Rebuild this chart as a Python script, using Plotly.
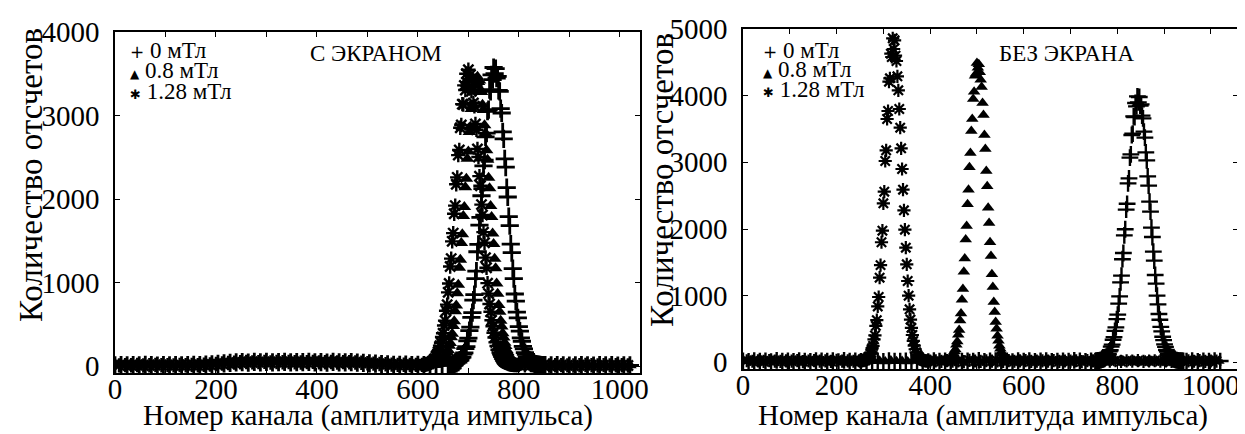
import plotly.graph_objects as go

FIG_W, FIG_H = 1245, 434

# ---------------- data ----------------
series_names = ["0 мТл", "0.8 мТл", "1.28 мТл"]
panel_titles = ["С ЭКРАНОМ", "БЕЗ ЭКРАНА"]
x_title = "Номер канала (амплитуда импульса)"
y_title = "Количество отсчетов"

BASE_STEP = 12   # channel spacing of sampled baseline counts
PEAK_STEP = 2    # channel spacing of sampled peak counts

# ---- left panel: "С ЭКРАНОМ" ----
L0_base_a_start = 0
L0_base_a = [13, 16, 11, 15, 12, 17, 14, 10, 15, 13,
             16, 12, 15, 18, 14, 20, 24, 29, 36, 41,
             46, 49, 45, 52, 48, 53, 47, 50, 54, 46,
             51, 49, 53, 47, 50, 45, 52, 48, 46, 50,
             44, 41, 36, 31, 26, 23, 19, 17, 20, 16,
             18, 15, 19, 17, 21]
L0_peak_start = 660
L0_peak = [13, 21, 16, 24, 19, 28, 26, 37, 35, 50,
           51, 69, 74, 101, 110, 147, 161, 212, 236, 304,
           337, 426, 469, 586, 643, 791, 858, 1050, 1140, 1371,
           1458, 1690, 1783, 2041, 2126, 2398, 2467, 2745, 2790, 3052,
           3071, 3310, 3290, 3488, 3430, 3575, 3502, 3561, 3447, 3470,
           3301, 3289, 3084, 3031, 2806, 2722, 2481, 2383, 2139, 2026,
           1790, 1683, 1462, 1360, 1170, 1050, 865, 781, 649, 580,
           474, 421, 341, 300, 239, 208, 163, 144, 112, 98,
           75, 67, 50, 48, 37, 34, 27, 26, 21, 22,
           17, 18, 15, 16, 14]
L0_base_b_start = 852
L0_base_b = [14, 11, 15, 12, 10, 13, 16, 11, 9, 14, 12, 15, 10, 13, 11]

L08_base_a_start = 4
L08_base_a = [15, 12, 14, 11, 16, 13, 15, 12, 17, 14,
              11, 15, 13, 17, 16, 21, 26, 32, 38, 43,
              47, 51, 48, 54, 46, 50, 53, 48, 51, 45,
              52, 47, 50, 54, 46, 49, 51, 45, 48, 47,
              43, 39, 34, 29, 25, 21, 18, 19, 16, 18,
              15, 17]
L08_peak_start = 628
L08_peak = [18, 15, 22, 20, 23, 31, 29, 42, 43, 56,
            59, 81, 89, 118, 132, 170, 193, 245, 278, 347,
            391, 482, 540, 658, 729, 874, 975, 1180, 1276, 1474,
            1580, 1798, 1906, 2143, 2245, 2484, 2570, 2803, 2866, 3080,
            3112, 3295, 3290, 3428, 3385, 3466, 3402, 3420, 3308, 3281,
            3130, 3066, 2885, 2790, 2585, 2472, 2256, 2131, 1918, 1788,
            1590, 1463, 1286, 1172, 990, 868, 735, 652, 545, 477,
            395, 344, 281, 242, 195, 167, 135, 115, 91, 77,
            61, 53, 44, 40, 31, 30, 24, 23, 19, 18,
            16, 17, 15]
L08_base_b_start = 816
L08_base_b = [16, 13, 11, 14, 12, 10, 13, 11, 12, 15, 9, 13, 14, 11, 12, 10, 14, 12]

L128_base_a_start = 8
L128_base_a = [11, 14, 12, 16, 10, 13, 15, 12, 14, 11,
               16, 13, 15, 12, 18, 22, 27, 33, 39, 44,
               48, 52, 47, 50, 53, 46, 51, 49, 52, 48,
               45, 50, 53, 47, 49, 52, 46, 50, 48, 45,
               42, 37, 32, 28, 24, 20, 17, 19, 15, 17]
L128_peak_start = 608
L128_peak = [17, 14, 21, 18, 25, 23, 32, 30, 43, 44,
             57, 61, 82, 90, 120, 133, 172, 195, 248, 282,
             352, 396, 488, 547, 665, 738, 885, 990, 1195, 1289,
             1495, 1594, 1826, 1923, 2178, 2261, 2527, 2589, 2854, 2887,
             3137, 3132, 3361, 3306, 3500, 3398, 3549, 3420, 3488, 3290,
             3341, 3150, 3112, 2900, 2830, 2601, 2505, 2275, 2160, 1935,
             1810, 1605, 1478, 1300, 1180, 995, 870, 745, 652, 552,
             480, 401, 345, 286, 243, 198, 165, 137, 114, 93,
             77, 63, 53, 46, 39, 32, 28, 25, 21, 19,
             18, 16, 17, 14, 15]
L128_base_b_start = 800
L128_base_b = [15, 12, 14, 11, 13, 10, 12, 14, 11, 10, 13, 15, 12, 9, 14, 11, 13, 12, 10]

# ---- right panel: "БЕЗ ЭКРАНА" ----
R0_base_a_start = 0
R0_base_a = [21, 14, 26, 18, 23, 12, 28, 17, 22, 15,
             25, 19, 13, 27, 20, 16, 24, 11, 29, 18,
             22, 14, 26, 17, 21, 13, 25, 19, 16, 23,
             20, 15, 27, 12, 24, 18, 21, 26, 14, 19,
             23, 16, 28, 13, 20, 25, 17, 22, 11, 27,
             18, 24, 15, 21, 26, 13, 19, 23, 16, 28,
             20, 14, 22]
R0_peak_start = 753
R0_peak = [19, 25, 21, 29, 27, 34, 33, 42, 43, 57,
           59, 78, 85, 114, 127, 165, 182, 236, 265, 338,
           378, 472, 524, 648, 715, 880, 990, 1200, 1300, 1547,
           1640, 1905, 1996, 2290, 2378, 2685, 2760, 3070, 3120, 3410,
           3430, 3690, 3680, 3890, 3840, 3990, 3900, 3980, 3850, 3870,
           3700, 3660, 3460, 3370, 3150, 3030, 2790, 2650, 2410, 2260,
           2020, 1880, 1660, 1526, 1310, 1180, 1000, 870, 726, 639,
           532, 465, 384, 333, 269, 232, 185, 162, 129, 111,
           87, 76, 60, 54, 44, 40, 34, 33, 28, 27,
           23, 24, 21, 22, 20]
R0_base_b_start = 948
R0_base_b = [18, 24, 13, 21, 16, 25, 19]

R08_base_a_start = 4
R08_base_a = [17, 23, 12, 27, 19, 15, 24, 20, 13, 26,
              18, 22, 14, 28, 16, 21, 25, 19, 12, 24,
              20, 15, 27, 18, 22, 13, 26, 17, 21, 14,
              25, 19, 16, 23, 20, 15]
R08_peak_start = 426
R08_peak = [17, 24, 20, 28, 25, 34, 32, 45, 46, 67,
            72, 103, 118, 165, 193, 263, 312, 414, 486, 626,
            732, 940, 1100, 1360, 1557, 1843, 2046, 2372, 2590, 2925,
            3140, 3470, 3650, 3950, 4060, 4300, 4330, 4490, 4420, 4470,
            4350, 4240, 4130, 3890, 3710, 3410, 3200, 2870, 2640, 2320,
            2090, 1800, 1595, 1320, 1130, 905, 756, 604, 503, 397,
            325, 250, 204, 155, 127, 95, 79, 60, 52, 40,
            36, 30, 29, 24, 24, 21, 22]
R08_base_b_start = 584
R08_base_b = [22, 15, 27, 18, 12, 24, 20, 16, 26, 13,
              21, 17, 25, 14, 23, 19, 11, 22, 18, 26,
              15, 21, 13, 27, 19, 24, 16, 20, 12, 25,
              18, 23, 14, 22, 17, 26, 20]

R128_base_a_start = 8
R128_base_a = [24, 16, 21, 13, 27, 19, 15, 22, 18, 25, 12, 20, 26, 17, 23, 14, 28, 19, 21, 16, 24]
R128_peak_start = 250
R128_peak = [18, 25, 21, 28, 24, 36, 32, 51, 52, 80,
             85, 128, 146, 212, 246, 344, 403, 548, 632, 838,
             980, 1270, 1458, 1801, 1975, 2385, 2560, 3020, 3180, 3650,
             3770, 4210, 4260, 4630, 4580, 4860, 4700, 4830, 4600, 4520,
             4290, 4080, 3800, 3520, 3210, 2900, 2590, 2280, 1990, 1720,
             1470, 1220, 1000, 795, 642, 518, 410, 322, 252, 196,
             151, 116, 90, 70, 56, 44, 37, 32, 28, 24,
             23, 21, 20]
R128_base_b_start = 400
R128_base_b = [19, 23, 14, 26, 17, 21, 12, 28, 20, 15,
               24, 18, 22, 13, 27, 16, 21, 25, 14, 19,
               23, 17, 26, 15, 20, 18, 24, 12, 27, 21,
               16, 22, 19, 25, 13, 23, 18, 26, 15, 20,
               24, 17, 21, 14, 28, 19, 22, 16, 25, 13,
               20, 18]


# ---------------- helpers ----------------
def channels(start, step, values):
    return [start + step * i for i in range(len(values))]


def series_xy(segments):
    xs, ys = [], []
    for start, step, vals in segments:
        xs += channels(start, step, vals)
        ys += list(vals)
    return xs, ys


left_series = [
    [(L0_base_a_start, BASE_STEP, L0_base_a), (L0_peak_start, PEAK_STEP, L0_peak), (L0_base_b_start, BASE_STEP, L0_base_b)],
    [(L08_base_a_start, BASE_STEP, L08_base_a), (L08_peak_start, PEAK_STEP, L08_peak), (L08_base_b_start, BASE_STEP, L08_base_b)],
    [(L128_base_a_start, BASE_STEP, L128_base_a), (L128_peak_start, PEAK_STEP, L128_peak), (L128_base_b_start, BASE_STEP, L128_base_b)],
]
right_series = [
    [(R0_base_a_start, BASE_STEP, R0_base_a), (R0_peak_start, PEAK_STEP, R0_peak), (R0_base_b_start, BASE_STEP, R0_base_b)],
    [(R08_base_a_start, BASE_STEP, R08_base_a), (R08_peak_start, PEAK_STEP, R08_peak), (R08_base_b_start, BASE_STEP, R08_base_b)],
    [(R128_base_a_start, BASE_STEP, R128_base_a), (R128_peak_start, PEAK_STEP, R128_peak), (R128_base_b_start, BASE_STEP, R128_base_b)],
]

left_markers = [
    dict(symbol="cross-thin", size=13, color="black", line=dict(width=2.8, color="black")),
    dict(symbol="triangle-up", size=12, color="black", line=dict(width=0, color="black")),
    dict(symbol="asterisk", size=12, color="black", line=dict(width=2.4, color="black")),
]
right_markers = [
    dict(symbol="cross-thin", size=12, color="black", line=dict(width=2.4, color="black")),
    dict(symbol="triangle-up", size=11, color="black", line=dict(width=0, color="black")),
    dict(symbol="asterisk", size=11, color="black", line=dict(width=2.2, color="black")),
]

fig = go.Figure()
for segs_list, styles, xa, ya in [(left_series, left_markers, "x", "y"),
                                  (right_series, right_markers, "x2", "y2")]:
    for k, segs in enumerate(segs_list):
        xs, ys = series_xy(segs)
        fig.add_trace(go.Scatter(
            x=xs, y=ys, mode="markers", name=series_names[k],
            marker=styles[k], xaxis=xa, yaxis=ya,
            showlegend=False, legendgroup=series_names[k],
        ))


def px(x, y):
    return x / FIG_W, 1 - y / FIG_H


SERIF = "Liberation Serif"
tickfont = dict(family=SERIF, size=29, color="black")

axis_common = dict(
    showline=True, linecolor="black", linewidth=1.5, mirror="ticks",
    ticks="inside", ticklen=5, tickwidth=1.2, tickcolor="black",
    showgrid=False, zeroline=False, tickfont=tickfont, automargin=False,
)
xminor = dict(dtick=100, ticks="inside", ticklen=5, tickwidth=1.2, tickcolor="black", showgrid=False)

fig.update_layout(
    width=FIG_W, height=FIG_H,
    margin=dict(l=0, r=0, t=0, b=0, autoexpand=False),
    paper_bgcolor="white", plot_bgcolor="white",
    showlegend=False,
    xaxis=dict(axis_common, domain=[107 / FIG_W, 632 / FIG_W], range=[0, 1040],
               tick0=0, dtick=200, minor=xminor, anchor="y", ticklabelstandoff=-11),
    yaxis=dict(axis_common, domain=[1 - 365 / FIG_H, 1 - 24 / FIG_H], range=[-80, 4000],
               tick0=0, dtick=1000, anchor="x", ticklabelstandoff=8),
    xaxis2=dict(axis_common, domain=[735 / FIG_W, 1230 / FIG_W], range=[0, 1058],
                tick0=0, dtick=200, minor=xminor, anchor="y2", ticklabelstandoff=-11),
    yaxis2=dict(axis_common, domain=[1 - 361 / FIG_H, 1 - 21 / FIG_H], range=[-100, 5000],
                tick0=0, dtick=1000, anchor="x2", ticklabelstandoff=8),
)

ann = []
# axis titles
for cx, cy in [(360, 407), (975, 407)]:
    x, y = px(cx, cy)
    ann.append(dict(x=x, y=y, xref="paper", yref="paper", text=x_title, showarrow=False,
                    xanchor="center", yanchor="middle", font=dict(family=SERIF, size=29, color="black")))
for cx, cy in [(23, 167), (654, 172)]:
    x, y = px(cx, cy)
    ann.append(dict(x=x, y=y, xref="paper", yref="paper", text=y_title, showarrow=False, textangle=-90,
                    xanchor="center", yanchor="middle", font=dict(family=SERIF, size=33, color="black")))
# panel titles
for (cx, cy), t in zip([(368, 46), (1058, 46)], panel_titles):
    x, y = px(cx, cy)
    ann.append(dict(x=x, y=y, xref="paper", yref="paper", text=t, showarrow=False,
                    xanchor="center", yanchor="middle", font=dict(family=SERIF, size=23, color="black")))
# legends: one line per series, symbol glyph + label
glyphs = ["+", "▲", "✱"]
glyph_sizes = [17, 12, 13]
for lx, rows in [(121, [42, 63, 83]), (754, [42, 62, 82])]:
    for k, ry in enumerate(rows):
        x, y = px(lx, ry)
        label = (f"<span style='font-family:DejaVu Sans;font-size:{glyph_sizes[k]}px'>{glyphs[k]}</span>"
                 f" {series_names[k]}")
        ann.append(dict(x=x, y=y, xref="paper", yref="paper", text=label, showarrow=False,
                        xanchor="left", yanchor="middle", borderpad=0,
                        font=dict(family=SERIF, size=23, color="black")))

fig.update_layout(annotations=ann)
fig.write_html("out.html")
